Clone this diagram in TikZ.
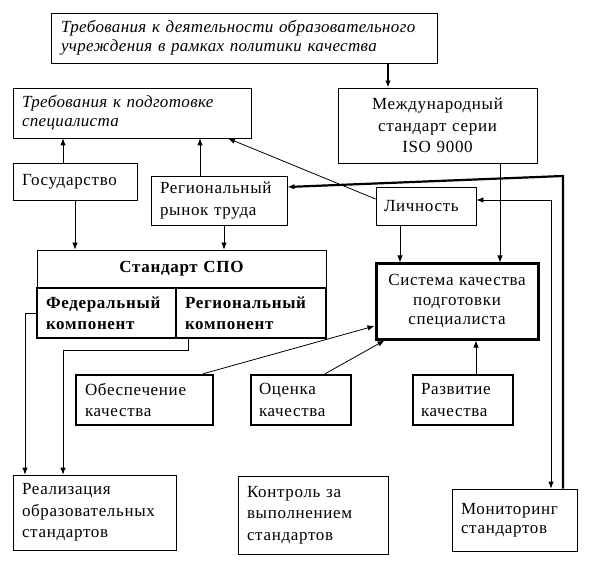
\documentclass[tikz,border=0pt]{standalone}
\usepackage{fontspec}
\setmainfont{Liberation Serif}[LetterSpace=4]
\newfontfamily\itfam{Liberation Serif}[LetterSpace=2]
\usetikzlibrary{arrows.meta}
\newcommand{\txtsize}{\fontsize{17}{21.5}\selectfont}
\newcommand{\itsize}{\fontsize{17}{19}\itfam\itshape}
\newcommand{\syssize}{\fontsize{17}{19.5}\selectfont}
\tikzset{
  bx/.style={draw, line width=0.8pt, inner xsep=0pt, inner ysep=0pt, align=left, font=\txtsize},
  thk/.style={line width=2.4pt},
  arr/.style={line width=0.8pt, -{Latex[length=7pt,width=5.5pt]}},
  biarr/.style={line width=0.8pt, {Latex[length=7pt,width=5.5pt]}-{Latex[length=7pt,width=5.5pt]}},
}
\begin{document}
\begin{tikzpicture}[x=1pt,y=-1pt]
\useasboundingbox (0,0) rectangle (600,588);
% boxes
\node[bx, minimum width=386pt, minimum height=50pt, text width=366pt, font=\itsize] (top) at (244,38)
  {Требования к деятельности образовательного\\учреждения в рамках политики качества};
\node[bx, minimum width=238pt, minimum height=50pt, text width=220pt, font=\itsize] (req) at (132,113)
  {Требования к подготовке\\специалиста};
\node[bx, minimum width=199pt, minimum height=75pt, text width=190pt, align=center] (intl) at (437.5,125.5)
  {Международный\\стандарт серии\\ISO 9000};
\node[bx, minimum width=124pt, minimum height=37pt, text width=106pt] (gos) at (75,181.5) {Государство};
\node[bx, minimum width=136pt, minimum height=49pt, text width=118pt] (rr) at (219,200.5) {Региональный\\рынок труда};
\node[bx, minimum width=100pt, minimum height=38pt, text width=84pt] (lich) at (426,206) {Личность};
\node[bx, minimum width=289pt, minimum height=38pt, text width=270pt, align=center, font=\txtsize\bfseries] (std) at (181.5,269) {Стандарт СПО};
\node[bx, thk, minimum width=139pt, minimum height=50pt, text width=121pt, font=\txtsize\bfseries] (fed) at (106.5,313) {Федеральный\\компонент};
\node[bx, thk, minimum width=150pt, minimum height=50pt, text width=132pt, font=\txtsize\bfseries] (reg) at (251,313) {Региональный\\компонент};
\node[bx, line width=3pt, minimum width=162pt, minimum height=75pt, text width=155pt, align=center, font=\syssize] (sys) at (457,301.5) {Система качества\\подготовки\\специалиста};
\node[bx, thk, minimum width=137pt, minimum height=50pt, text width=119pt] (obesp) at (144.5,400) {Обеспечение\\качества};
\node[bx, thk, minimum width=100pt, minimum height=50pt, text width=84pt] (ocen) at (301,400) {Оценка\\качества};
\node[bx, thk, minimum width=100pt, minimum height=50pt, text width=84pt] (razv) at (463,400) {Развитие\\качества};
\node[bx, minimum width=163pt, minimum height=75pt, text width=145pt] (real) at (94.5,512.5) {Реализация\\образовательных\\стандартов};
\node[bx, minimum width=150pt, minimum height=78pt, text width=132pt] (kontr) at (313,515) {Контроль за\\выполнением\\стандартов};
\node[bx, minimum width=125pt, minimum height=62pt, text width=107pt, font=\syssize] (monit) at (514.5,520) {Мониторинг\\стандартов};
% helper coordinates
\coordinate (ca) at (388,0);
\coordinate (cb) at (63,0);
\coordinate (cc) at (200,0);
\coordinate (cd) at (224,0);
\coordinate (ce) at (75,0);
\coordinate (cf) at (400,0);
\coordinate (cg) at (500,0);
\coordinate (ch) at (476,0);
\coordinate (ci) at (551,200);
\coordinate (cj) at (563,176);
\coordinate (ck) at (25,313);
\coordinate (cl1) at (188,350);
\coordinate (cl2) at (63,350);
\coordinate (cm) at (228,0);
% connectors
\draw[arr, line width=1.8pt] (top.south -| ca) -- (intl.north -| ca);
\draw[arr] (gos.north -| cb) -- (req.south -| cb);
\draw[arr] (rr.north -| cc) -- (req.south -| cc);
\draw[arr] ([yshift=7pt]lich.west) -- (req.south -| cm);
\draw[arr, line width=2.2pt] (monit.north -| cj) -- (cj) -- ([yshift=13.5pt]rr.east);
\draw[biarr] (lich.east |- ci) -- (ci) -- (monit.north -| ci);
\draw[arr] (intl.south -| cg) -- (sys.north -| cg);
\draw[arr] (lich.south -| cf) -- (sys.north -| cf);
\draw[arr] (rr.south -| cd) -- (std.north -| cd);
\draw[arr] (gos.south -| ce) -- (std.north -| ce);
\draw[arr] (fed.west |- ck) -- (ck) -- (real.north -| ck);
\draw[arr] (reg.south -| cl1) -- (cl1) -- (cl2) -- (real.north -| cl2);
\draw[arr] ([xshift=58.5pt]obesp.north) -- ([yshift=-24.5pt]sys.west);
\draw[arr] ([xshift=24pt]ocen.north) -- ([xshift=10pt]sys.south west);
\draw[arr] (razv.north -| ch) -- (sys.south -| ch);
\end{tikzpicture}
\end{document}
